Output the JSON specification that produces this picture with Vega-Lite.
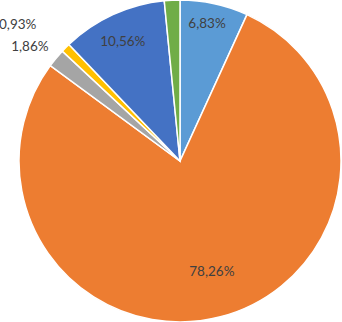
{
  "$schema": "https://vega.github.io/schema/vega-lite/v6.json",
  "autosize": {"type": "none"},
  "width": 324,
  "height": 322,
  "padding": {"left": 18, "top": 0, "right": 0, "bottom": 0},
  "background": "white",
  "view": {"stroke": null},
  "data": {
    "values": [
      {"cat": "A", "value": 6.83, "order": 1, "label": "6,83%"},
      {"cat": "B", "value": 78.26, "order": 2, "label": "78,26%"},
      {"cat": "C", "value": 1.86, "order": 3, "label": "1,86%"},
      {"cat": "D", "value": 0.93, "order": 4, "label": "0,93%"},
      {"cat": "E", "value": 10.56, "order": 5, "label": "10,56%"},
      {"cat": "F", "value": 1.56, "order": 6, "label": ""}
    ]
  },
  "encoding": {
    "theta": {"field": "value", "type": "quantitative", "stack": true},
    "order": {"field": "order", "type": "quantitative"}
  },
  "layer": [
    {
      "mark": {"type": "arc", "outerRadius": 161, "stroke": "white", "strokeWidth": 1.5},
      "encoding": {
        "color": {
          "field": "cat", "type": "nominal", "legend": null,
          "scale": {"domain": ["A","B","C","D","E","F"], "range": ["#5B9BD5","#ED7D31","#A5A5A5","#FFC000","#4472C4","#70AD47"]}
        }
      }
    },
    {
      "mark": {"type": "text", "radius": 141, "dx": -3, "dy": 1, "font": "Lato", "fontSize": 13.5, "fill": "#404040"},
      "encoding": {"text": {"condition": {"test": "datum.cat === 'A'", "field": "label"}, "value": ""}}
    },
    {
      "mark": {"type": "text", "radius": 115, "dx": 3, "font": "Lato", "fontSize": 13.5, "fill": "#404040"},
      "encoding": {"text": {"condition": {"test": "datum.cat === 'B'", "field": "label"}, "value": ""}}
    },
    {
      "mark": {"type": "text", "radius": 130, "dx": -3, "dy": -1, "font": "Lato", "fontSize": 13.5, "fill": "#404040"},
      "encoding": {"text": {"condition": {"test": "datum.cat === 'E'", "field": "label"}, "value": ""}}
    },
    {
      "mark": {"type": "text", "radius": 172, "align": "right", "dx": 1, "dy": -4, "font": "Lato", "fontSize": 13.5, "fill": "#404040"},
      "encoding": {"text": {"condition": {"test": "datum.cat === 'C'", "field": "label"}, "value": ""}}
    },
    {
      "mark": {"type": "text", "radius": 195, "align": "right", "dx": -5, "dy": 1, "font": "Lato", "fontSize": 13.5, "fill": "#404040"},
      "encoding": {"text": {"condition": {"test": "datum.cat === 'D'", "field": "label"}, "value": ""}}
    }
  ]
}
